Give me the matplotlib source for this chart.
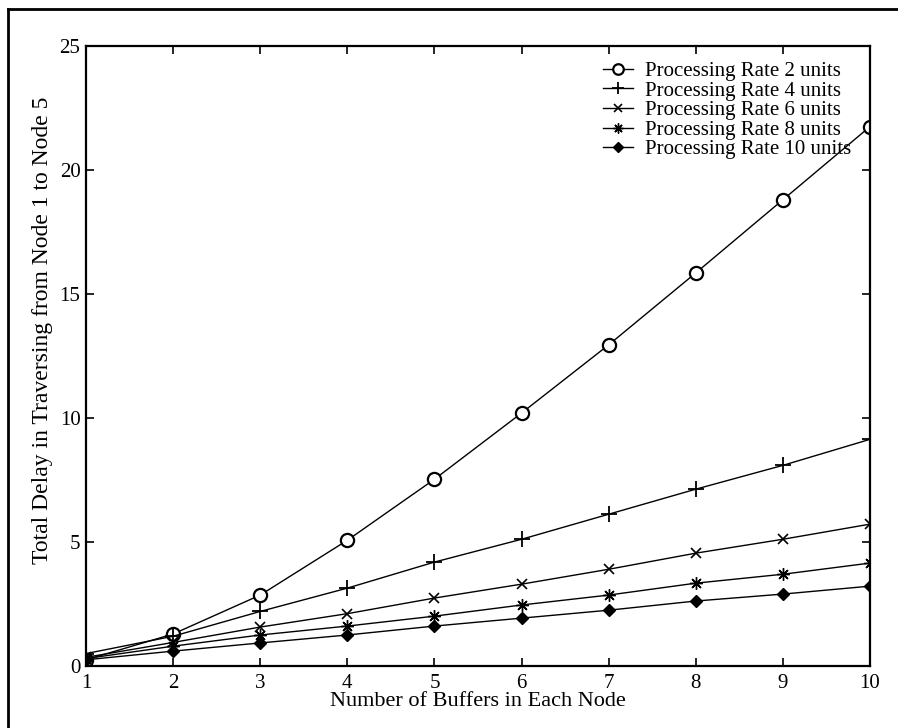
import matplotlib.pyplot as plt
from matplotlib.lines import Line2D

# Data
buffers = [1, 2, 3, 4, 5, 6, 7, 8, 9, 10]
rate2 = [0.25, 1.29, 2.86, 5.07, 7.53, 10.2, 12.95, 15.85, 18.8, 21.75]
rate4 = [0.5, 1.2, 2.2, 3.14, 4.19, 5.11, 6.12, 7.13, 8.09, 9.14]
rate6 = [0.35, 0.95, 1.57, 2.11, 2.74, 3.30, 3.90, 4.55, 5.11, 5.72]
rate8 = [0.3, 0.8, 1.25, 1.61, 2.01, 2.46, 2.86, 3.34, 3.70, 4.15]
rate10 = [0.25, 0.6, 0.93, 1.25, 1.61, 1.93, 2.25, 2.62, 2.90, 3.22]
labels = ['Processing Rate 2 units', 'Processing Rate 4 units',
          'Processing Rate 6 units', 'Processing Rate 8 units',
          'Processing Rate 10 units']
xticks = [1, 2, 3, 4, 5, 6, 7, 8, 9, 10]
yticks = [0, 5, 10, 15, 20, 25]


def main():
    plt.rcParams['font.family'] = ['Liberation Serif', 'DejaVu Serif']
    fig = plt.figure(figsize=(8.98, 7.28), dpi=100)
    ax = fig.add_axes([86 / 898, 1 - 666 / 728, 784 / 898, 620 / 728])

    lw = 1.0
    ax.plot(buffers, rate2, color='k', lw=lw, marker='o', ms=9.5,
            mfc='white', mec='k', mew=1.6, label=labels[0])
    ax.plot(buffers, rate4, color='k', lw=lw, marker='+', ms=11,
            mew=1.3, label=labels[1])
    ax.plot(buffers, rate6, color='k', lw=lw, marker='x', ms=7,
            mew=1.2, label=labels[2])
    ax.plot(buffers, rate8, color='k', lw=lw, marker=(8, 2, 0), ms=9,
            mew=1.0, label=labels[3])
    ax.plot(buffers, rate10, color='k', lw=lw, marker='D', ms=6.5,
            mfc='k', mec='k', label=labels[4])

    ax.set_xlim(1, 10)
    ax.set_ylim(0, 25)
    ax.set_xticks(xticks)
    ax.set_yticks(yticks)
    ax.tick_params(direction='in', length=6, width=1.2, top=True, right=True,
                   labelsize=15)
    ax.tick_params(axis='x', pad=6)
    ax.tick_params(axis='y', pad=4)
    for s in ax.spines.values():
        s.set_linewidth(1.6)

    ax.set_xlabel('Number of Buffers in Each Node', fontsize=16, labelpad=-1)
    ax.set_ylabel('Total Delay in Traversing from Node 1 to Node 5',
                  fontsize=17)
    # label sits a bit above the axes centre in the reference
    ax.yaxis.set_label_coords(-0.042, 0.542)

    ax.legend(loc='upper left', bbox_to_anchor=(0.659, 0.975),
              frameon=False, fontsize=15, handlelength=1.45,
              handletextpad=0.6, labelspacing=0.0, borderpad=0,
              borderaxespad=0, markerscale=0.8)

    # outer frame around the figure (cropped at right and bottom)
    fig.add_artist(Line2D([8 / 898, 1.0], [1 - 9 / 728, 1 - 9 / 728],
                          transform=fig.transFigure, color='k', lw=2))
    fig.add_artist(Line2D([8 / 898, 8 / 898], [0.0, 1 - 9 / 728],
                          transform=fig.transFigure, color='k', lw=2))

    fig.savefig('out.png', dpi=100)


if __name__ == '__main__':
    main()
